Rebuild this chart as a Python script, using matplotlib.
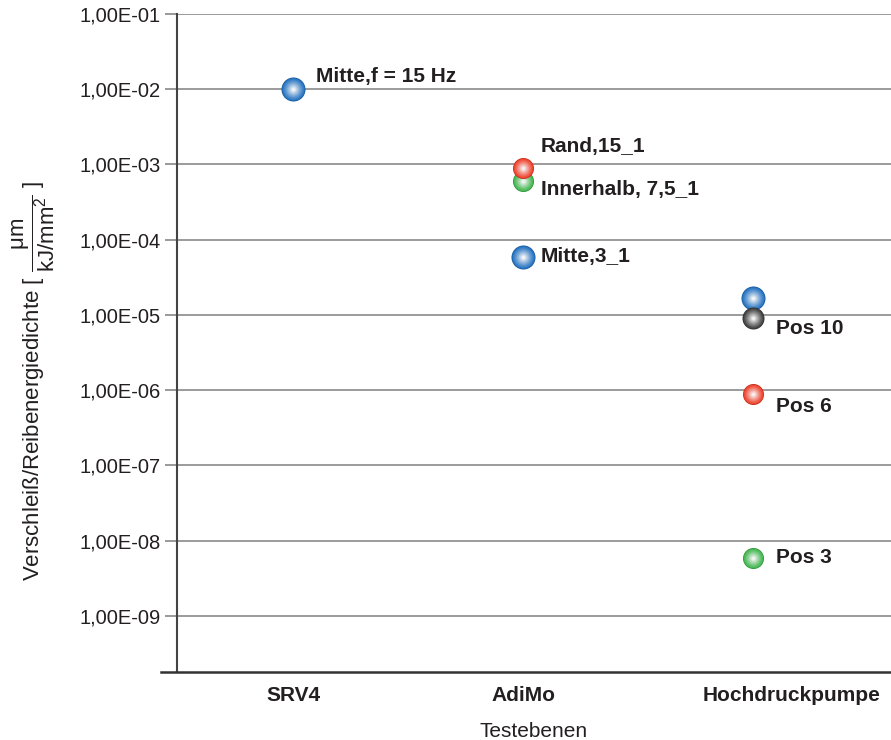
import matplotlib; matplotlib.use("Agg")
import matplotlib.pyplot as plt
import matplotlib.transforms as mtransforms
import numpy as np
from matplotlib.colors import to_rgb
from matplotlib.ticker import NullLocator

plt.rcParams["font.family"] = ["Liberation Sans", "DejaVu Sans"]
plt.rcParams["mathtext.fontset"] = "custom"
plt.rcParams["mathtext.rm"] = "Liberation Sans"
plt.rcParams["mathtext.it"] = "Liberation Sans:italic"

categories = ["SRV4", "AdiMo", "Hochdruckpumpe"]

# one entry per point: category index, value, colour, label, label offset (px)
pt_cat = [0, 1, 1, 1, 2, 2, 2, 2]
pt_val = [1.02e-2, 6.1e-4, 9.1e-4, 5.9e-5, 1.69e-5, 9.1e-6, 8.8e-7, 5.9e-9]
pt_col = ["#1f6fc0", "#3cb44b", "#ee3b24", "#1f6fc0", "#1f6fc0", "#3a3a3a", "#ee3b24", "#3cb44b"]
pt_lab = ["Mitte,f = 15 Hz", "Innerhalb, 7,5_1", "Rand,15_1", "Mitte,3_1", "", "Pos 10", "Pos 6", "Pos 3"]
pt_off = [(23, 12), (18, -9), (18, 21), (18, 0), (0, 0), (23, -10), (23, -12), (23, 0)]
pt_size = [24, 21, 21, 24, 24, 22, 21, 21]

ytick_vals = [1e-9, 1e-8, 1e-7, 1e-6, 1e-5, 1e-4, 1e-3, 1e-2, 1e-1]
ytick_labs = ["1,00E-09", "1,00E-08", "1,00E-07", "1,00E-06", "1,00E-05",
              "1,00E-04", "1,00E-03", "1,00E-02", "1,00E-01"]

txt = "#231f20"

fig = plt.figure(figsize=(8.91, 7.40), dpi=100)
ax = fig.add_axes([0.1987, 0.0919, 0.8013, 0.8892])
ax.set_yscale("log")
ax.set_ylim(1.8e-10, 1e-1)
ax.set_xlim(-0.505, 2.6)

ax.set_yticks(ytick_vals)
ax.set_yticklabels(ytick_labs, fontsize=14.5, color=txt)
ax.yaxis.set_minor_locator(NullLocator())
ax.tick_params(axis="y", length=9, width=1.2, color="#888", pad=3)
ax.grid(axis="y", color="#8a8a8a", lw=1.2)
ax.set_axisbelow(True)

ax.set_xticks(range(len(categories)))
ax.set_xticklabels(categories, fontsize=15, fontweight="bold", color=txt)
ax.tick_params(axis="x", length=0, pad=10)
# last category label sits right of its column in the original
lab = ax.get_xticklabels()[2]
lab.set_transform(lab.get_transform() + mtransforms.ScaledTranslation(0.39, 0, fig.dpi_scale_trans))
ax.set_xlabel("Testebenen", fontsize=15, color=txt, labelpad=12)
ax.set_ylabel(r"Verschleiß/Reibenergiedichte [ $\dfrac{\mathrm{\mu m}}{\mathrm{kJ/mm^2}}$ ]",
              fontsize=16, color=txt)
ax.yaxis.set_label_coords(-0.168, 0.442)

for sp in ["top", "right", "bottom"]:
    ax.spines[sp].set_visible(False)
ax.spines["left"].set_color("#444")
ax.spines["left"].set_linewidth(1.5)
ax.plot([-0.022, 1], [0, 0], transform=ax.transAxes, color="#333", lw=1.8,
        clip_on=False, zorder=5)

def sphere(x, y, color, d):
    base = np.array(to_rgb(color))
    n = 16
    for i in range(n):
        f = i / (n - 1)
        w = f ** 1.2
        c = base * (1 - w) + np.array([1, 1, 1]) * w * 0.97
        if i == 0:
            c = base * 0.8
        size = (d * 0.72 * (1 - 0.9 * f)) ** 2
        ax.scatter([x], [y], s=size, color=c, zorder=10, linewidths=0)

for i in range(len(pt_cat)):
    sphere(pt_cat[i], pt_val[i], pt_col[i], pt_size[i])
    if pt_lab[i]:
        ax.annotate(pt_lab[i], (pt_cat[i], pt_val[i]), xytext=pt_off[i],
                    textcoords="offset pixels", fontsize=15, fontweight="bold",
                    color=txt, va="center", ha="left", zorder=12)

fig.savefig("out.png", dpi=100, facecolor="white")
